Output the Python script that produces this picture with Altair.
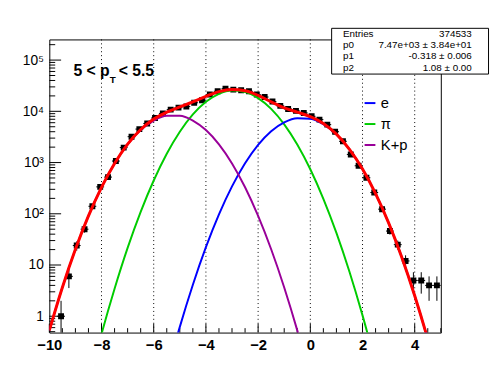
import altair as alt
import pandas as pd
import numpy as np

# ---------------- data ----------------
bin_centers = [-9.55, -9.25, -8.95, -8.65, -8.35, -8.05, -7.75, -7.45, -7.15, -6.85,
               -6.55, -6.25, -5.95, -5.65, -5.35, -5.05, -4.75, -4.45, -4.15, -3.85,
               -3.55, -3.25, -2.95, -2.65, -2.35, -2.05, -1.75, -1.45, -1.15, -0.85,
               -0.55, -0.25, 0.05, 0.35, 0.65, 0.95, 1.25, 1.55, 1.85, 2.15,
               2.45, 2.75, 3.05, 3.35, 3.65, 3.95, 4.25, 4.55, 4.85]
counts = [1, 6, 24, 50, 140, 335, 520, 1070, 1960, 3200,
          4500, 5800, 7400, 9100, 10800, 11800, 12400, 14700, 16400, 21300,
          24600, 27700, 26500, 25800, 24600, 21300, 19000, 15500, 12800, 11100,
          10200, 9300, 8000, 6900, 5500, 4000, 2600, 1440, 865, 505,
          260, 123, 46, 25, 12, 5, 5, 4, 4]
bin_half_width = 0.15

total_x = [-10.0, -9.5, -9.0, -8.5, -8.0, -7.5, -7.0, -6.5, -6.0, -5.5, -5.0, -4.5, -4.0,
           -3.5, -3.0, -2.5, -2.0, -1.5, -1.0, -0.5, 0.0, 0.5, 1.0, 1.5, 2.0, 2.5,
           3.0, 3.5, 4.0, 4.5, 5.0]
total_y = [0.53, 3.65, 20.3, 90.9, 329, 963, 2286, 4414, 7056, 9672, 12176, 15294, 19647,
           24281, 26702, 25149, 20451, 15300, 11694, 9619, 7890, 5796, 3587, 1817, 747, 248,
           66.5, 14.4, 2.52, 0.356, 0.040]

pion_x = [-8.5, -8.0, -7.5, -7.0, -6.5, -6.0, -5.5, -5.0, -4.5, -4.0, -3.5, -3.0, -2.5,
          -2.0, -1.5, -1.0, -0.5, 0.0, 0.5, 1.0, 1.5, 2.0, 2.5]
pion_y = [0.047, 0.45, 3.45, 21.6, 109, 446, 1482, 3985, 8680, 15320, 21920, 25400, 23850,
          18140, 11180, 5580, 2258, 740, 196, 42.3, 7.37, 1.04, 0.12]

elec_x = [-5.5, -5.0, -4.5, -4.0, -3.5, -3.0, -2.5, -2.0, -1.5, -1.0, -0.5, 0.0, 0.5,
          1.0, 1.5, 2.0, 2.5, 3.0, 3.5, 4.0, 4.5, 5.0]
elec_y = [0.075, 0.62, 4.13, 22.3, 97.3, 342, 970, 2220, 4100, 6110, 7360, 7150, 5600,
          3545, 1810, 746, 248, 66.5, 14.4, 2.52, 0.356, 0.040]

kp_x = [-10.0, -9.5, -9.0, -8.5, -8.0, -7.5, -7.0, -6.5, -6.0, -5.5, -5.0, -4.5, -4.0,
        -3.5, -3.0, -2.5, -2.0, -1.5, -1.0, -0.5, 0.0]
kp_y = [0.53, 3.65, 20.3, 90.8, 329, 960, 2264, 4305, 6610, 8190, 8190, 6610, 4305,
        2264, 960, 329, 90.8, 20.3, 3.65, 0.53, 0.062]

x_labels = [-10, -8, -6, -4, -2, 0, 2, 4]
grid_x = [-8, -6, -4, -2, 0, 2, 4]
x_minor = [-9.5, -9, -8.5, -7.5, -7, -6.5, -5.5, -5, -4.5, -3.5, -3, -2.5, -1.5, -1, -0.5,
           0.5, 1, 1.5, 2.5, 3, 3.5, 4.5, 5]
y_major = [1, 10, 100, 1000, 10000, 100000]
y_minor = [0.5, 0.6, 0.7, 0.8, 0.9] + [m * 10 ** k for k in range(0, 5) for m in range(2, 10)] + [200000]

stats_rows = [("Entries", "374533"),
              ("p0", "7.47e+03 ± 3.84e+01"),
              ("p1", "-0.318 ± 0.006"),
              ("p2", "1.08 ± 0.00")]
legend_items = [("e", "#0000ff"), ("π", "#00cc00"), ("K+p", "#990099")]

# ---------------- chart ----------------
W, H = 398, 298
FONT = "Liberation Sans"
xs = alt.Scale(domain=[-10, 5], nice=False, zero=False)
ys = alt.Scale(type="log", domain=[0.48, 2.53e5], nice=False)

pts = pd.DataFrame({"x": bin_centers, "n": counts})
err = np.sqrt(pts["n"])
pts["lo"] = (pts["n"] - err).clip(lower=0.05)
pts["hi"] = pts["n"] + err
pts["xl"] = pts["x"] - bin_half_width
pts["xr"] = pts["x"] + bin_half_width

x_axis = alt.Axis(values=x_labels, format="d", ticks=False, domain=False, grid=False,
                  labelFont=FONT, labelFontSize=15, labelFontWeight="bold", labelColor="black",
                  labelPadding=5, labelFlush=False, labelOverlap=False, title=None)
y_axis = alt.Axis(values=y_major, ticks=False, domain=False, grid=False,
                  labelExpr="datum.value < 5 ? '1' : datum.value < 50 ? '10' : datum.value < 500 ? '10²' : datum.value < 5000 ? '10³' : datum.value < 50000 ? '10⁴' : '10⁵'",
                  labelFont=FONT, labelFontSize=14, labelColor="black", labelPadding=6,
                  title=None)


def X(field):
    return alt.X(field, type="quantitative", scale=xs, axis=x_axis)


def Y(field):
    return alt.Y(field, type="quantitative", scale=ys, axis=y_axis)


layers = []

# dotted vertical grid
layers.append(alt.Chart(pd.DataFrame({"g": grid_x})).mark_rule(
    color="black", strokeDash=[1, 3], strokeWidth=1).encode(x=X("g")))

# inward ticks
layers.append(alt.Chart(pd.DataFrame({"t": x_labels})).mark_rule(color="black", strokeWidth=1).encode(
    x=X("t"), y=alt.value(H), y2=alt.value(H - 9)))
layers.append(alt.Chart(pd.DataFrame({"t": x_minor})).mark_rule(color="black", strokeWidth=1).encode(
    x=X("t"), y=alt.value(H), y2=alt.value(H - 4.5)))
layers.append(alt.Chart(pd.DataFrame({"t": y_major})).mark_rule(color="black", strokeWidth=1).encode(
    y=Y("t"), x=alt.value(0), x2=alt.value(12)))
layers.append(alt.Chart(pd.DataFrame({"t": y_minor})).mark_rule(color="black", strokeWidth=1).encode(
    y=Y("t"), x=alt.value(0), x2=alt.value(6)))

# data points with error bars
base = alt.Chart(pts)
layers.append(base.mark_rule(color="black", strokeWidth=1, clip=True).encode(
    x=X("x"), y=Y("lo"), y2="hi"))
layers.append(base.mark_rule(color="black", strokeWidth=1, clip=True).encode(
    x=X("xl"), x2="xr", y=Y("n")))
layers.append(base.mark_square(color="black", size=36, opacity=1, clip=True).encode(
    x=X("x"), y=Y("n")))


# fit curves
def curve(xv, yv, color, width):
    return alt.Chart(pd.DataFrame({"x": xv, "y": yv})).mark_line(
        color=color, strokeWidth=width, interpolate="monotone", clip=True).encode(
        x=X("x"), y=Y("y"))


layers.append(curve(pion_x, pion_y, "#00cc00", 2))
layers.append(curve(elec_x, elec_y, "#0000ff", 2))
layers.append(curve(kp_x, kp_y, "#990099", 2))
layers.append(curve(total_x, total_y, "#ff0000", 3))

one = pd.DataFrame({"a": [0]})

# label 5 < pT < 5.5
layers.append(alt.Chart(one).mark_text(text="5 < p", font=FONT, fontSize=16, fontWeight="bold",
                                       align="left", baseline="alphabetic", color="black").encode(
    x=alt.value(24.5), y=alt.value(37)))
layers.append(alt.Chart(one).mark_text(text="T", font=FONT, fontSize=10, fontWeight="bold",
                                       align="left", baseline="alphabetic", color="black").encode(
    x=alt.value(61.5), y=alt.value(44)))
layers.append(alt.Chart(one).mark_text(text="< 5.5", font=FONT, fontSize=16, fontWeight="bold",
                                       align="left", baseline="alphabetic", color="black").encode(
    x=alt.value(70.5), y=alt.value(37)))

# legend
for i, (lab, col) in enumerate(legend_items):
    yy = 64.7 + 21.3 * i
    layers.append(alt.Chart(one).mark_rule(color=col, strokeWidth=2).encode(
        x=alt.value(320.5), x2=alt.value(331.5), y=alt.value(yy)))
    layers.append(alt.Chart(one).mark_text(text=lab, font=FONT, fontSize=15, align="left",
                                           baseline="middle", color="black").encode(
        x=alt.value(337), y=alt.value(yy)))

# stats box
layers.append(alt.Chart(one).mark_rect(fill="white", stroke="black", strokeWidth=1).encode(
    x=alt.value(287), x2=alt.value(446.5), y=alt.value(-11.3), y2=alt.value(35.2)))
for i, (lab, val) in enumerate(stats_rows):
    yy = -2.3 + 11.3 * i
    layers.append(alt.Chart(one).mark_text(text=lab, font=FONT, fontSize=10, align="left",
                                           baseline="alphabetic", color="black").encode(
        x=alt.value(298.5), y=alt.value(yy)))
    layers.append(alt.Chart(one).mark_text(text=val, font=FONT, fontSize=10, align="right",
                                           baseline="alphabetic", color="black").encode(
        x=alt.value(429.5), y=alt.value(yy)))

chart = alt.layer(*layers).properties(
    width=W, height=H, autosize=alt.AutoSizeParams(type="none"),
    padding={"left": 42, "top": 29, "right": 50, "bottom": 30},
    background="white",
).configure_view(stroke="black", strokeWidth=1)

chart.save("out.html", embed_options={"renderer": "svg", "actions": False})
